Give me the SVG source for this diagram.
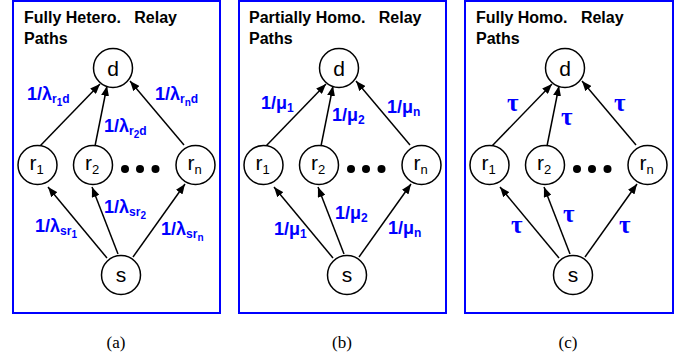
<svg xmlns="http://www.w3.org/2000/svg" width="683" height="353" viewBox="0 0 683 353">
<style>
.frame{fill:none;stroke:#0000FF;stroke-width:2}
.title{font-family:"Liberation Sans",Arial,sans-serif;font-weight:bold;font-size:16px;fill:#000;white-space:pre}
.node circle{fill:#fff;stroke:#000;stroke-width:1.5}
.node text{font-family:"Liberation Sans",Arial,sans-serif;font-size:21px;fill:#000;text-anchor:middle}
.node .ns{font-size:13px}
.edge{stroke:#000;stroke-width:1.5;fill:none;marker-end:url(#ah)}
.lbl{font-family:"Liberation Sans",Arial,sans-serif;font-weight:bold;font-size:18px;fill:#0000FF}
.s1{font-size:12px}
.s2{font-size:10px}
.tau{font-family:"Liberation Serif","Times New Roman",serif;font-weight:bold;font-size:25px;fill:#0000FF}
.cap{font-family:"Liberation Serif","Times New Roman",serif;font-size:17px;fill:#000;text-anchor:middle}
.dot{fill:#000}
</style>
<defs>
<marker id="ah" markerUnits="userSpaceOnUse" markerWidth="10" markerHeight="8" refX="10" refY="4" orient="auto">
<path d="M0,0 L10,4 L0,8 z" fill="#000"/>
</marker>
</defs>

<!-- Panel (a) -->
<g id="panel-a">
<rect class="frame" x="13" y="1" width="207" height="312"/>
<text class="title" x="24" y="23" xml:space="preserve">Fully Hetero.   Relay</text>
<text class="title" x="24" y="43.5">Paths</text>
<g id="a-connectors">
<line class="edge" x1="40" y1="146" x2="100" y2="84"/>
<line class="edge" x1="95" y1="146" x2="107" y2="86"/>
<line class="edge" x1="184" y1="145" x2="130" y2="81"/>
<line class="edge" x1="107" y1="258" x2="48" y2="187"/>
<line class="edge" x1="118" y1="254" x2="92" y2="187"/>
<line class="edge" x1="133" y1="257" x2="185" y2="184"/>
</g>
<g id="a-d" class="node" transform="translate(113,68)"><circle r="19.5"/><text y="7.5">d</text></g>
<g id="a-r1" class="node" transform="translate(37.5,165)"><circle r="19.5"/><text y="5" x="-1">r<tspan class="ns" dy="4">1</tspan></text></g>
<g id="a-r2" class="node" transform="translate(93,165)"><circle r="19.5"/><text y="5" x="-1">r<tspan class="ns" dy="4">2</tspan></text></g>
<g id="a-rn" class="node" transform="translate(195.5,165)"><circle r="19.5"/><text y="5" x="-1">r<tspan class="ns" dy="4">n</tspan></text></g>
<g id="a-s" class="node" transform="translate(121,275)"><circle r="19.5"/><text y="7">s</text></g>
<g id="a-dots"><circle class="dot" cx="125" cy="169" r="4"/><circle class="dot" cx="140" cy="169" r="4"/><circle class="dot" cx="155.5" cy="169" r="4"/></g>
<g id="a-labels">
<text class="lbl" x="27" y="100">1/λ<tspan class="s1" dy="3">r</tspan><tspan class="s2" dy="3">1</tspan><tspan class="s1" dy="-3">d</tspan></text>
<text class="lbl" x="104" y="132">1/λ<tspan class="s1" dy="3">r</tspan><tspan class="s2" dy="3">2</tspan><tspan class="s1" dy="-3">d</tspan></text>
<text class="lbl" x="155" y="100">1/λ<tspan class="s1" dy="3">r</tspan><tspan class="s2" dy="3">n</tspan><tspan class="s1" dy="-3">d</tspan></text>
<text class="lbl" x="35" y="232">1/λ<tspan class="s1" dy="3">sr</tspan><tspan class="s2" dy="3">1</tspan></text>
<text class="lbl" x="104" y="213">1/λ<tspan class="s1" dy="3">sr</tspan><tspan class="s2" dy="3">2</tspan></text>
<text class="lbl" x="161" y="235">1/λ<tspan class="s1" dy="3">sr</tspan><tspan class="s2" dy="3">n</tspan></text>
</g>
<text class="cap" x="116" y="348">(a)</text>
</g>

<!-- Panel (b) -->
<g id="panel-b" transform="translate(226,0)">
<rect class="frame" x="13" y="1" width="207" height="312"/>
<text class="title" x="23" y="23" xml:space="preserve">Partially Homo.   Relay</text>
<text class="title" x="23" y="43.5">Paths</text>
<g id="b-connectors">
<line class="edge" x1="40" y1="146" x2="100" y2="84"/>
<line class="edge" x1="95" y1="146" x2="107" y2="86"/>
<line class="edge" x1="184" y1="145" x2="130" y2="81"/>
<line class="edge" x1="107" y1="258" x2="48" y2="187"/>
<line class="edge" x1="118" y1="254" x2="92" y2="187"/>
<line class="edge" x1="133" y1="257" x2="185" y2="184"/>
</g>
<g id="b-d" class="node" transform="translate(113,68)"><circle r="19.5"/><text y="7.5">d</text></g>
<g id="b-r1" class="node" transform="translate(37.5,165)"><circle r="19.5"/><text y="5" x="-1">r<tspan class="ns" dy="4">1</tspan></text></g>
<g id="b-r2" class="node" transform="translate(93,165)"><circle r="19.5"/><text y="5" x="-1">r<tspan class="ns" dy="4">2</tspan></text></g>
<g id="b-rn" class="node" transform="translate(195.5,165)"><circle r="19.5"/><text y="5" x="-1">r<tspan class="ns" dy="4">n</tspan></text></g>
<g id="b-s" class="node" transform="translate(121,275)"><circle r="19.5"/><text y="7">s</text></g>
<g id="b-dots"><circle class="dot" cx="125" cy="169" r="4"/><circle class="dot" cx="140" cy="169" r="4"/><circle class="dot" cx="155.5" cy="169" r="4"/></g>
<g id="b-labels">
<text class="lbl" x="35" y="109">1/μ<tspan class="s1" dy="3">1</tspan></text>
<text class="lbl" x="106" y="121">1/μ<tspan class="s1" dy="3">2</tspan></text>
<text class="lbl" x="161" y="113">1/μ<tspan class="s1" dy="3">n</tspan></text>
<text class="lbl" x="48" y="235">1/μ<tspan class="s1" dy="3">1</tspan></text>
<text class="lbl" x="109" y="219">1/μ<tspan class="s1" dy="3">2</tspan></text>
<text class="lbl" x="162" y="234">1/μ<tspan class="s1" dy="3">n</tspan></text>
</g>
<text class="cap" x="116" y="348">(b)</text>
</g>

<!-- Panel (c) -->
<g id="panel-c" transform="translate(452,0)">
<rect class="frame" x="13" y="1" width="208" height="312"/>
<text class="title" x="24" y="23" xml:space="preserve">Fully Homo.   Relay</text>
<text class="title" x="24" y="43.5">Paths</text>
<g id="c-connectors">
<line class="edge" x1="40" y1="146" x2="100" y2="84"/>
<line class="edge" x1="95" y1="146" x2="107" y2="86"/>
<line class="edge" x1="184" y1="145" x2="130" y2="81"/>
<line class="edge" x1="107" y1="258" x2="48" y2="187"/>
<line class="edge" x1="118" y1="254" x2="92" y2="187"/>
<line class="edge" x1="133" y1="257" x2="185" y2="184"/>
</g>
<g id="c-d" class="node" transform="translate(113,68)"><circle r="19.5"/><text y="7.5">d</text></g>
<g id="c-r1" class="node" transform="translate(37.5,165)"><circle r="19.5"/><text y="5" x="-1">r<tspan class="ns" dy="4">1</tspan></text></g>
<g id="c-r2" class="node" transform="translate(93,165)"><circle r="19.5"/><text y="5" x="-1">r<tspan class="ns" dy="4">2</tspan></text></g>
<g id="c-rn" class="node" transform="translate(195.5,165)"><circle r="19.5"/><text y="5" x="-1">r<tspan class="ns" dy="4">n</tspan></text></g>
<g id="c-s" class="node" transform="translate(121,275)"><circle r="19.5"/><text y="7">s</text></g>
<g id="c-dots"><circle class="dot" cx="125" cy="169" r="4"/><circle class="dot" cx="140" cy="169" r="4"/><circle class="dot" cx="155.5" cy="169" r="4"/></g>
<g id="c-labels">
<text class="tau" x="55" y="111">τ</text>
<text class="tau" x="109" y="125">τ</text>
<text class="tau" x="162" y="111">τ</text>
<text class="tau" x="59" y="233">τ</text>
<text class="tau" x="111" y="222">τ</text>
<text class="tau" x="167" y="233">τ</text>
</g>
<text class="cap" x="116" y="348">(c)</text>
</g>
</svg>
